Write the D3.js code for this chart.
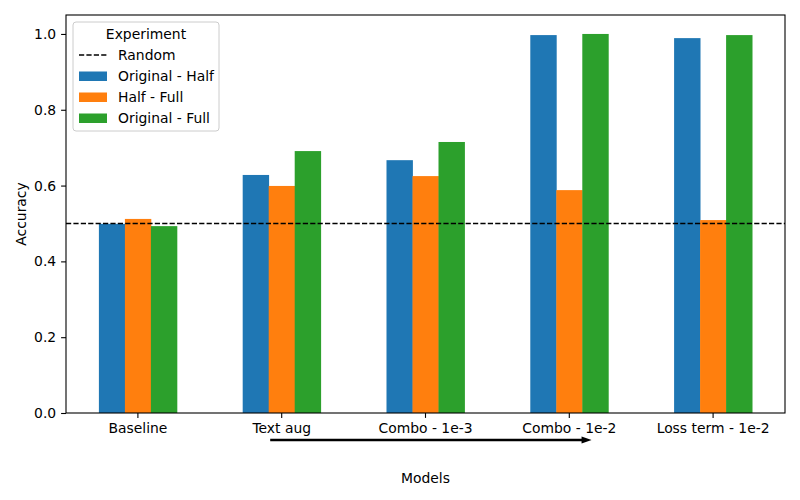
<!DOCTYPE html>
<html><head><meta charset="utf-8">
<script src="https://cdn.jsdelivr.net/npm/d3@7"></script>
<style>body{margin:0;background:#fff}text{font-family:"DejaVu Sans",sans-serif}</style>
</head><body>
<svg id="c" width="800" height="500"></svg>
<script>
const categories = ["Baseline","Text aug","Combo - 1e-3","Combo - 1e-2","Loss term - 1e-2"];
const seriesNames = ["Original - Half","Half - Full","Original - Full"];
const originalHalf = [0.499,0.628,0.667,0.997,0.989];
const halfFull     = [0.512,0.599,0.625,0.588,0.509];
const originalFull = [0.493,0.691,0.715,1.000,0.997];
const randomLevel = 0.5;
const yTicks = [0.0,0.2,0.4,0.6,0.8,1.0];
const colors = ["#1f77b4","#ff7f0e","#2ca02c"];
const series = [originalHalf, halfFull, originalFull];

const svg = d3.select("#c");
const L=66, R=785, T=15, B=413;
const fs = 13.9;

const x = d3.scaleBand().domain(categories).range([L,R]).paddingInner(0.4575).paddingOuter(0.4575/2);
const xs = d3.scaleBand().domain(seriesNames).range([0,x.bandwidth()]);
const y = d3.scaleLinear().domain([0,1.05]).range([B,T]);

// bars
series.forEach((vals,si)=>{
  svg.append("g").selectAll("rect").data(vals).join("rect")
    .attr("x",(d,i)=>x(categories[i])+xs(seriesNames[si]))
    .attr("width",xs.bandwidth()+0.4)
    .attr("y",d=>y(d)).attr("height",d=>B-y(d))
    .attr("fill",colors[si]);
});

// random line
svg.append("line").attr("x1",L).attr("x2",R).attr("y1",y(randomLevel)).attr("y2",y(randomLevel))
  .attr("stroke","#000").attr("stroke-width",1.4).attr("stroke-dasharray","5.2,2.2");

// axes
const yAxis = d3.axisLeft(y).tickValues(yTicks).tickFormat(d3.format(".1f")).tickSize(4.9).tickPadding(4.9);
const gy = svg.append("g").attr("transform",`translate(${L},0)`).call(yAxis);
const xAxis = d3.axisBottom(x).tickSize(4.9).tickPadding(4.9);
const gx = svg.append("g").attr("transform",`translate(0,${B})`).call(xAxis);
[gx,gy].forEach(g=>{
  g.select(".domain").remove();
  g.selectAll("line").attr("stroke","#000").attr("stroke-width",1.1);
  g.selectAll("text").attr("font-size",fs).attr("fill","#000").style("font-family","DejaVu Sans");
});
svg.append("rect").attr("x",L).attr("y",T).attr("width",R-L).attr("height",B-T)
  .attr("fill","none").attr("stroke","#000").attr("stroke-width",1.1);

// axis labels
svg.append("text").attr("x",(L+R)/2).attr("y",483).attr("text-anchor","middle").attr("font-size",fs).text("Models");
svg.append("text").attr("transform",`translate(26,${(T+B)/2}) rotate(-90)`).attr("text-anchor","middle").attr("font-size",fs).text("Accuracy");

// arrow
const xl = d3.scaleLinear().domain([-0.5,4.5]).range([L,R]);
const ay = 440;
const ax0 = xl(0.92), ax1 = xl(3.155);
svg.append("line").attr("x1",ax0).attr("x2",ax1-8).attr("y1",ay).attr("y2",ay)
  .attr("stroke","#000").attr("stroke-width",2.4);
svg.append("path").attr("d",`M${ax1},${ay} L${ax1-10},${ay-3.6} L${ax1-10},${ay+3.6} Z`).attr("fill","#000");

// legend
const lg = svg.append("g");
lg.append("rect").attr("x",73).attr("y",22).attr("width",146).attr("height",109).attr("rx",3)
  .attr("fill","#fff").attr("fill-opacity",0.8).attr("stroke","#ccc").attr("stroke-width",1);
lg.append("text").attr("x",146).attr("y",39).attr("text-anchor","middle").attr("font-size",fs).text("Experiment");
lg.append("line").attr("x1",79).attr("x2",107).attr("y1",55).attr("y2",55).attr("stroke","#000").attr("stroke-width",1.4).attr("stroke-dasharray","5.2,2.2");
lg.append("text").attr("x",118).attr("y",60).attr("font-size",fs).text("Random");
seriesNames.forEach((n,i)=>{
  const cy = 76 + i*21;
  lg.append("rect").attr("x",79).attr("y",cy-4.5).attr("width",28).attr("height",9.5).attr("fill",colors[i]);
  lg.append("text").attr("x",118).attr("y",cy+5).attr("font-size",fs).text(n);
});
</script>
</body></html>
